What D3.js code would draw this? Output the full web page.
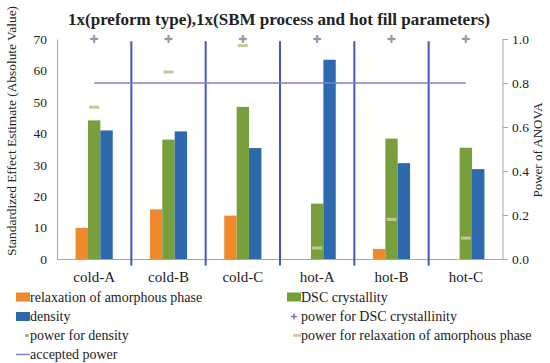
<!DOCTYPE html>
<html>
<head>
<meta charset="utf-8">
<script src="https://cdn.jsdelivr.net/npm/d3@7"></script>
<style>
  body { margin: 0; background: #fff; }
  svg text { font-family: "Liberation Serif", "Times New Roman", Times, "DejaVu Serif", serif !important; fill: #222; }
  .axis path, .axis line { stroke: #a6a6a6; }
  .axis text { font-size: 13.5px; }
</style>
</head>
<body>
<div id="chart"></div>
<script>
var categories = ["cold-A", "cold-B", "cold-C", "hot-A", "hot-B", "hot-C"];
var seriesNames = ["relaxation of amorphous phase", "DSC crystallity", "density"];
var relaxation = [9.9, 15.8, 13.8, 0, 3.2, 0];
var dscCrystallity = [44.1, 38.0, 48.4, 17.6, 38.3, 35.4];
var density = [40.9, 40.6, 35.3, 63.4, 30.5, 28.6];

var powerDSC = [1.0, 1.0, 1.0, 1.0, 1.0, 1.0];
var powerDensity = [1.0, 1.0, 1.0, 1.0, 1.0, 1.0];
var powerRelaxation = [0.69, 0.85, 0.97, 0.05, 0.18, 0.095];
var acceptedPower = 0.8;

var leftTicks = [0, 10, 20, 30, 40, 50, 60, 70];
var rightTicks = [0, 0.2, 0.4, 0.6, 0.8, 1.0];

var colors = ["#f0882c", "#77a03c", "#2e68ad"];

var margin = {top: 39, right: 47, bottom: 104, left: 57};
var W = 550, H = 363;
var width = W - margin.left - margin.right;
var height = H - margin.top - margin.bottom;

var svg = d3.select("#chart").append("svg")
    .attr("width", W)
    .attr("height", H);

var g = svg.append("g")
    .attr("transform", "translate(" + margin.left + "," + margin.top + ")");

var x0 = d3.scaleBand().domain(categories).range([0, width]).padding(0);
var x1 = d3.scaleBand().domain(seriesNames).range([0, x0.bandwidth()])
    .paddingInner(0).paddingOuter(1.5);
var y = d3.scaleLinear().domain([0, 70]).range([height, 0]);
var y2 = d3.scaleLinear().domain([0, 1]).range([height, 0]);

// title
svg.append("text")
    .attr("x", 279)
    .attr("y", 25)
    .attr("text-anchor", "middle")
    .style("font-size", "17px")
    .style("font-weight", "bold")
    .text("1x(preform type),1x(SBM process and hot fill parameters)");

// left axis
var yAxis = d3.axisLeft(y).tickValues(leftTicks).tickSize(0).tickPadding(10);
g.append("g").attr("class", "axis").call(yAxis);

// right axis
var y2Axis = d3.axisRight(y2).tickValues(rightTicks).tickSize(5).tickPadding(4)
    .tickFormat(d3.format(".1f"));
g.append("g").attr("class", "axis")
    .attr("transform", "translate(" + width + ",0)")
    .call(y2Axis)
    .select(".domain").attr("d", "M0,0V" + height);

// bottom axis
var xAxis = d3.axisBottom(x0).tickSize(0).tickPadding(12);
g.append("g").attr("class", "axis x")
    .attr("transform", "translate(0," + height + ")")
    .call(xAxis)
    .selectAll("text").style("font-size", "15px");

// bars
var rows = categories.map(function(c, i) {
  return {cat: c, vals: [relaxation[i], dscCrystallity[i], density[i]]};
});

g.append("g").selectAll("g")
    .data(rows)
  .enter().append("g")
    .attr("transform", function(d) { return "translate(" + x0(d.cat) + ",0)"; })
  .selectAll("rect")
    .data(function(d) { return d.vals.map(function(v, k) { return {s: seriesNames[k], v: v, k: k}; }); })
  .enter().append("rect")
    .attr("x", function(d) { return x1(d.s); })
    .attr("width", x1.bandwidth())
    .attr("y", function(d) { return y(d.v); })
    .attr("height", function(d) { return height - y(d.v); })
    .attr("fill", function(d) { return colors[d.k]; });

// divider lines between groups
g.append("g").selectAll("line")
    .data(categories.slice(0, -1))
  .enter().append("line")
    .attr("x1", function(d) { return x0(d) + x0.bandwidth(); })
    .attr("x2", function(d) { return x0(d) + x0.bandwidth(); })
    .attr("y1", y2(0.99))
    .attr("y2", y2(-0.03))
    .attr("stroke", "#4658c0")
    .attr("stroke-width", 2);

// accepted power line
var cx = function(c) { return x0(c) + x0.bandwidth() / 2; };
g.append("line")
    .attr("x1", cx(categories[0]))
    .attr("x2", cx(categories[categories.length - 1]))
    .attr("y1", y2(acceptedPower))
    .attr("y2", y2(acceptedPower))
    .attr("stroke", "#7d80c8")
    .attr("stroke-width", 1.5);

// power for density (short dashes, hidden under + at 1.0)
g.append("g").selectAll("line")
    .data(categories)
  .enter().append("line")
    .attr("x1", function(d) { return cx(d) - 3; })
    .attr("x2", function(d) { return cx(d) + 3; })
    .attr("y1", function(d, i) { return y2(powerDensity[i]); })
    .attr("y2", function(d, i) { return y2(powerDensity[i]); })
    .attr("stroke", "#a9ad78")
    .attr("stroke-width", 2.5);

// power for relaxation (dashes)
g.append("g").selectAll("line")
    .data(categories)
  .enter().append("line")
    .attr("x1", function(d) { return cx(d) - 5; })
    .attr("x2", function(d) { return cx(d) + 5; })
    .attr("y1", function(d, i) { return y2(powerRelaxation[i]); })
    .attr("y2", function(d, i) { return y2(powerRelaxation[i]); })
    .attr("stroke", "#c2c993")
    .attr("stroke-width", 3);

// power for DSC crystallinity (+)
g.append("g").selectAll("path")
    .data(categories)
  .enter().append("path")
    .attr("d", function(d, i) {
      var px = cx(d), py = y2(powerDSC[i]);
      return "M" + (px - 4) + "," + py + "H" + (px + 4) + "M" + px + "," + (py - 4) + "V" + (py + 4);
    })
    .attr("stroke", "#9c92ad")
    .attr("stroke-width", 2);

// axis titles
svg.append("text")
    .attr("transform", "translate(16," + 131 + ") rotate(-90)")
    .attr("text-anchor", "middle")
    .style("font-size", "13.4px")
    .text("Standardized Effect Estimate (Absolute Value)");

svg.append("text")
    .attr("transform", "translate(542," + 150 + ") rotate(-90)")
    .attr("text-anchor", "middle")
    .style("font-size", "13px")
    .text("Power of ANOVA");

// legend
var legendItems = [
  {label: "relaxation of amorphous phase", type: "rect", color: colors[0], col: 0, row: 0},
  {label: "DSC crystallity", type: "rect", color: colors[1], col: 1, row: 0},
  {label: "density", type: "rect", color: colors[2], col: 0, row: 1},
  {label: "power for DSC crystallinity", type: "plus", color: "#7c78c0", col: 1, row: 1},
  {label: "power for density", type: "short", color: "#a9ad78", col: 0, row: 2},
  {label: "power for relaxation of amorphous phase", type: "dash", color: "#c2c993", col: 1, row: 2},
  {label: "accepted power", type: "line", color: "#7d80c8", col: 0, row: 3}
];
var colX = [16, 287];
var rowY = [297, 316.5, 335.5, 354.5];

var legend = svg.append("g").attr("class", "legend");
var li = legend.selectAll("g")
    .data(legendItems)
  .enter().append("g")
    .attr("transform", function(d) { return "translate(" + colX[d.col] + "," + rowY[d.row] + ")"; });

li.each(function(d) {
  var s = d3.select(this);
  if (d.type === "rect") {
    s.append("rect").attr("x", 0).attr("y", -4.5).attr("width", 14).attr("height", 9).attr("fill", d.color);
  } else if (d.type === "plus") {
    s.append("path").attr("d", "M4,0H10M7,-3V3").attr("stroke", d.color).attr("stroke-width", 1.5);
  } else if (d.type === "short") {
    s.append("line").attr("x1", 9).attr("x2", 13).attr("y1", 0).attr("y2", 0)
      .attr("stroke", d.color).attr("stroke-width", 2.5);
  } else if (d.type === "dash") {
    s.append("line").attr("x1", 6).attr("x2", 14).attr("y1", 0).attr("y2", 0)
      .attr("stroke", d.color).attr("stroke-width", 2.5);
  } else {
    s.append("line").attr("x1", 0).attr("x2", 14).attr("y1", 0).attr("y2", 0)
      .attr("stroke", d.color).attr("stroke-width", 1.5);
  }
  s.append("text")
    .attr("x", 14)
    .attr("y", 0)
    .attr("dy", "0.35em")
    .style("font-size", "14px")
    .text(d.label);
});
</script>
</body>
</html>
